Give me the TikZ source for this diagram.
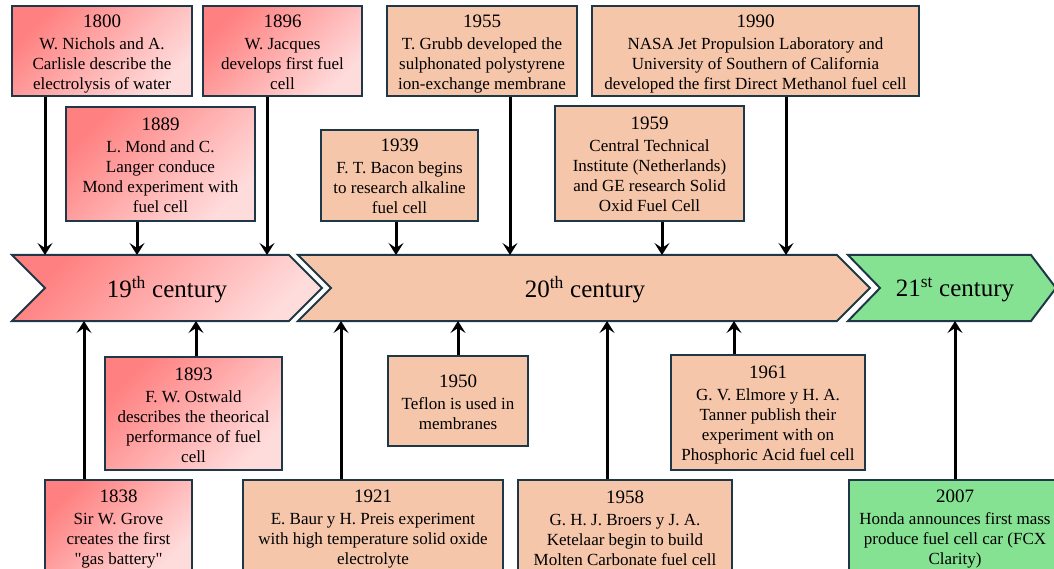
\documentclass[tikz,border=0pt]{standalone}
\usepackage{fontspec}
\setmainfont{Liberation Serif}[Ligatures=TeXOff]
\usetikzlibrary{arrows.meta}
\definecolor{bd}{HTML}{1F3847}
\definecolor{rd}{HTML}{FF8080}
\definecolor{rl}{HTML}{FFDCDC}
\definecolor{og}{HTML}{F5C6AA}
\definecolor{gr}{HTML}{86E293}
\newcommand{\yr}[1]{\rule{0pt}{18pt}{\fontsize{19}{22}\selectfont #1}\\[2pt]}
\newcommand{\es}{\rule[-3pt]{0pt}{3pt}}
\begin{document}
\begin{tikzpicture}[x=1pt,y=-1pt,
  box/.style={draw=bd, line width=1.5pt, align=center, inner sep=0pt,
    font=\fontsize{17}{20}\selectfont},
  rbox/.style={box, top color=rd, bottom color=rl, shading angle=45},
  obox/.style={box, fill=og},
  gbox/.style={box, fill=gr},
  chev/.style={draw=bd, line width=2pt, line join=miter},
  cent/.style={font=\fontsize{25}{30}\selectfont, inner sep=0pt},
  arr/.style={line width=3pt, -{Stealth[length=12pt,width=15pt,inset=5pt]}}]
\useasboundingbox (0,0) rectangle (1054,569);
\begin{scope}
\clip (0,0) rectangle (1054,569);
% chevrons
\path[chev, top color=rd, bottom color=rl, shading angle=45]
  (12,255) -- (289,255) -- (322,288) -- (289,321) -- (12,321) -- (45,288) -- cycle;
\path[chev, fill=og]
  (298,255) -- (837,255) -- (870,288) -- (837,321) -- (298,321) -- (331,288) -- cycle;
\path[chev, fill=gr]
  (848,255) -- (1031,255) -- (1056,288) -- (1031,321) -- (848,321) -- (880,288) -- cycle;
\node[cent] (l19) at (167,290) {19\textsuperscript{th} century};
\node[cent] (l20) at (585,290) {20\textsuperscript{th} century};
\node[cent] (l21) at (955,290) {21\textsuperscript{st} century};
\coordinate (top) at (0,255);
\coordinate (bot) at (0,321);
% top boxes
\node[rbox, minimum width=180, minimum height=90] (n1800) at (102,51)
  {\yr{1800}W. Nichols and A.\\Carlisle describe the\\electrolysis of water\es};
\node[rbox, minimum width=159, minimum height=90] (n1896) at (282.5,51)
  {\yr{1896}W. Jacques\\develops first fuel\\cell\es};
\node[obox, minimum width=190, minimum height=90] (n1955) at (482,51)
  {\yr{1955}T. Grubb developed the\\sulphonated polystyrene\\ion-exchange membrane\es};
\node[obox, minimum width=327, minimum height=90] (n1990) at (755.5,51)
  {\yr{1990}NASA Jet Propulsion Laboratory and\\University of Southern of California\\developed the first Direct Methanol fuel cell\es};
\node[rbox, minimum width=189, minimum height=114] (n1889) at (160.5,164)
  {\yr{1889}L. Mond and C.\\Langer conduce\\Mond experiment with\\fuel cell\es};
\node[obox, minimum width=157, minimum height=91] (n1939) at (399.5,175.5)
  {\yr{1939}F. T. Bacon begins\\to research alkaline\\fuel cell\es};
\node[obox, minimum width=189, minimum height=115] (n1959) at (649.5,163.5)
  {\yr{1959}Central Technical\\Institute (Netherlands)\\and GE research Solid\\Oxid Fuel Cell\es};
% bottom boxes
\node[rbox, minimum width=177, minimum height=113] (n1893) at (193.5,413.5)
  {\yr{1893}F. W. Ostwald\\describes the theorical\\performance of fuel\\cell\es};
\node[obox, minimum width=140, minimum height=90] (n1950) at (458,401)
  {\yr{1950}Teflon is used in\\membranes\es};
\node[obox, minimum width=194, minimum height=115] (n1961) at (768,412.5)
  {\yr{1961}G. V. Elmore y H. A.\\Tanner publish their\\experiment with on\\Phosphoric Acid fuel cell\es};
\node[rbox, minimum width=147, minimum height=93] (n1838) at (118.5,526.5)
  {\yr{1838}Sir W. Grove\\creates the first\\"gas battery"\es};
\node[obox, minimum width=260, minimum height=93] (n1921) at (373,526.5)
  {\yr{1921}E. Baur y H. Preis experiment\\with high temperature solid oxide\\electrolyte\es};
\node[obox, minimum width=214, minimum height=93] (n1958) at (625,526.5)
  {\yr{1958}G. H. J. Broers y J. A.\\Ketelaar begin to build\\Molten Carbonate fuel cell\es};
\node[gbox, minimum width=212, minimum height=93] (n2007) at (955,526.5)
  {\yr{2007}Honda announces first mass\\produce fuel cell car (FCX\\Clarity)\es};
% arrow positions
\coordinate (x1800) at (45,0);
\coordinate (x1889) at (137,0);
\coordinate (x1896) at (267,0);
\coordinate (x1939) at (396,0);
\coordinate (x1955) at (510,0);
\coordinate (x1959) at (662,0);
\coordinate (x1990) at (786,0);
\coordinate (x1838) at (84,0);
\coordinate (x1893) at (196,0);
\coordinate (x1921) at (341,0);
\coordinate (x1950) at (458,0);
\coordinate (x1958) at (607,0);
\coordinate (x1961) at (734,0);
\coordinate (x2007) at (955,0);
\foreach \y in {1800,1889,1896,1939,1955,1959,1990}
  \draw[arr] (x\y |- n\y.south) -- (x\y |- top);
\foreach \y in {1838,1893,1921,1950,1958,1961,2007}
  \draw[arr] (x\y |- n\y.north) -- (x\y |- bot);
\end{scope}
\end{tikzpicture}
\end{document}
